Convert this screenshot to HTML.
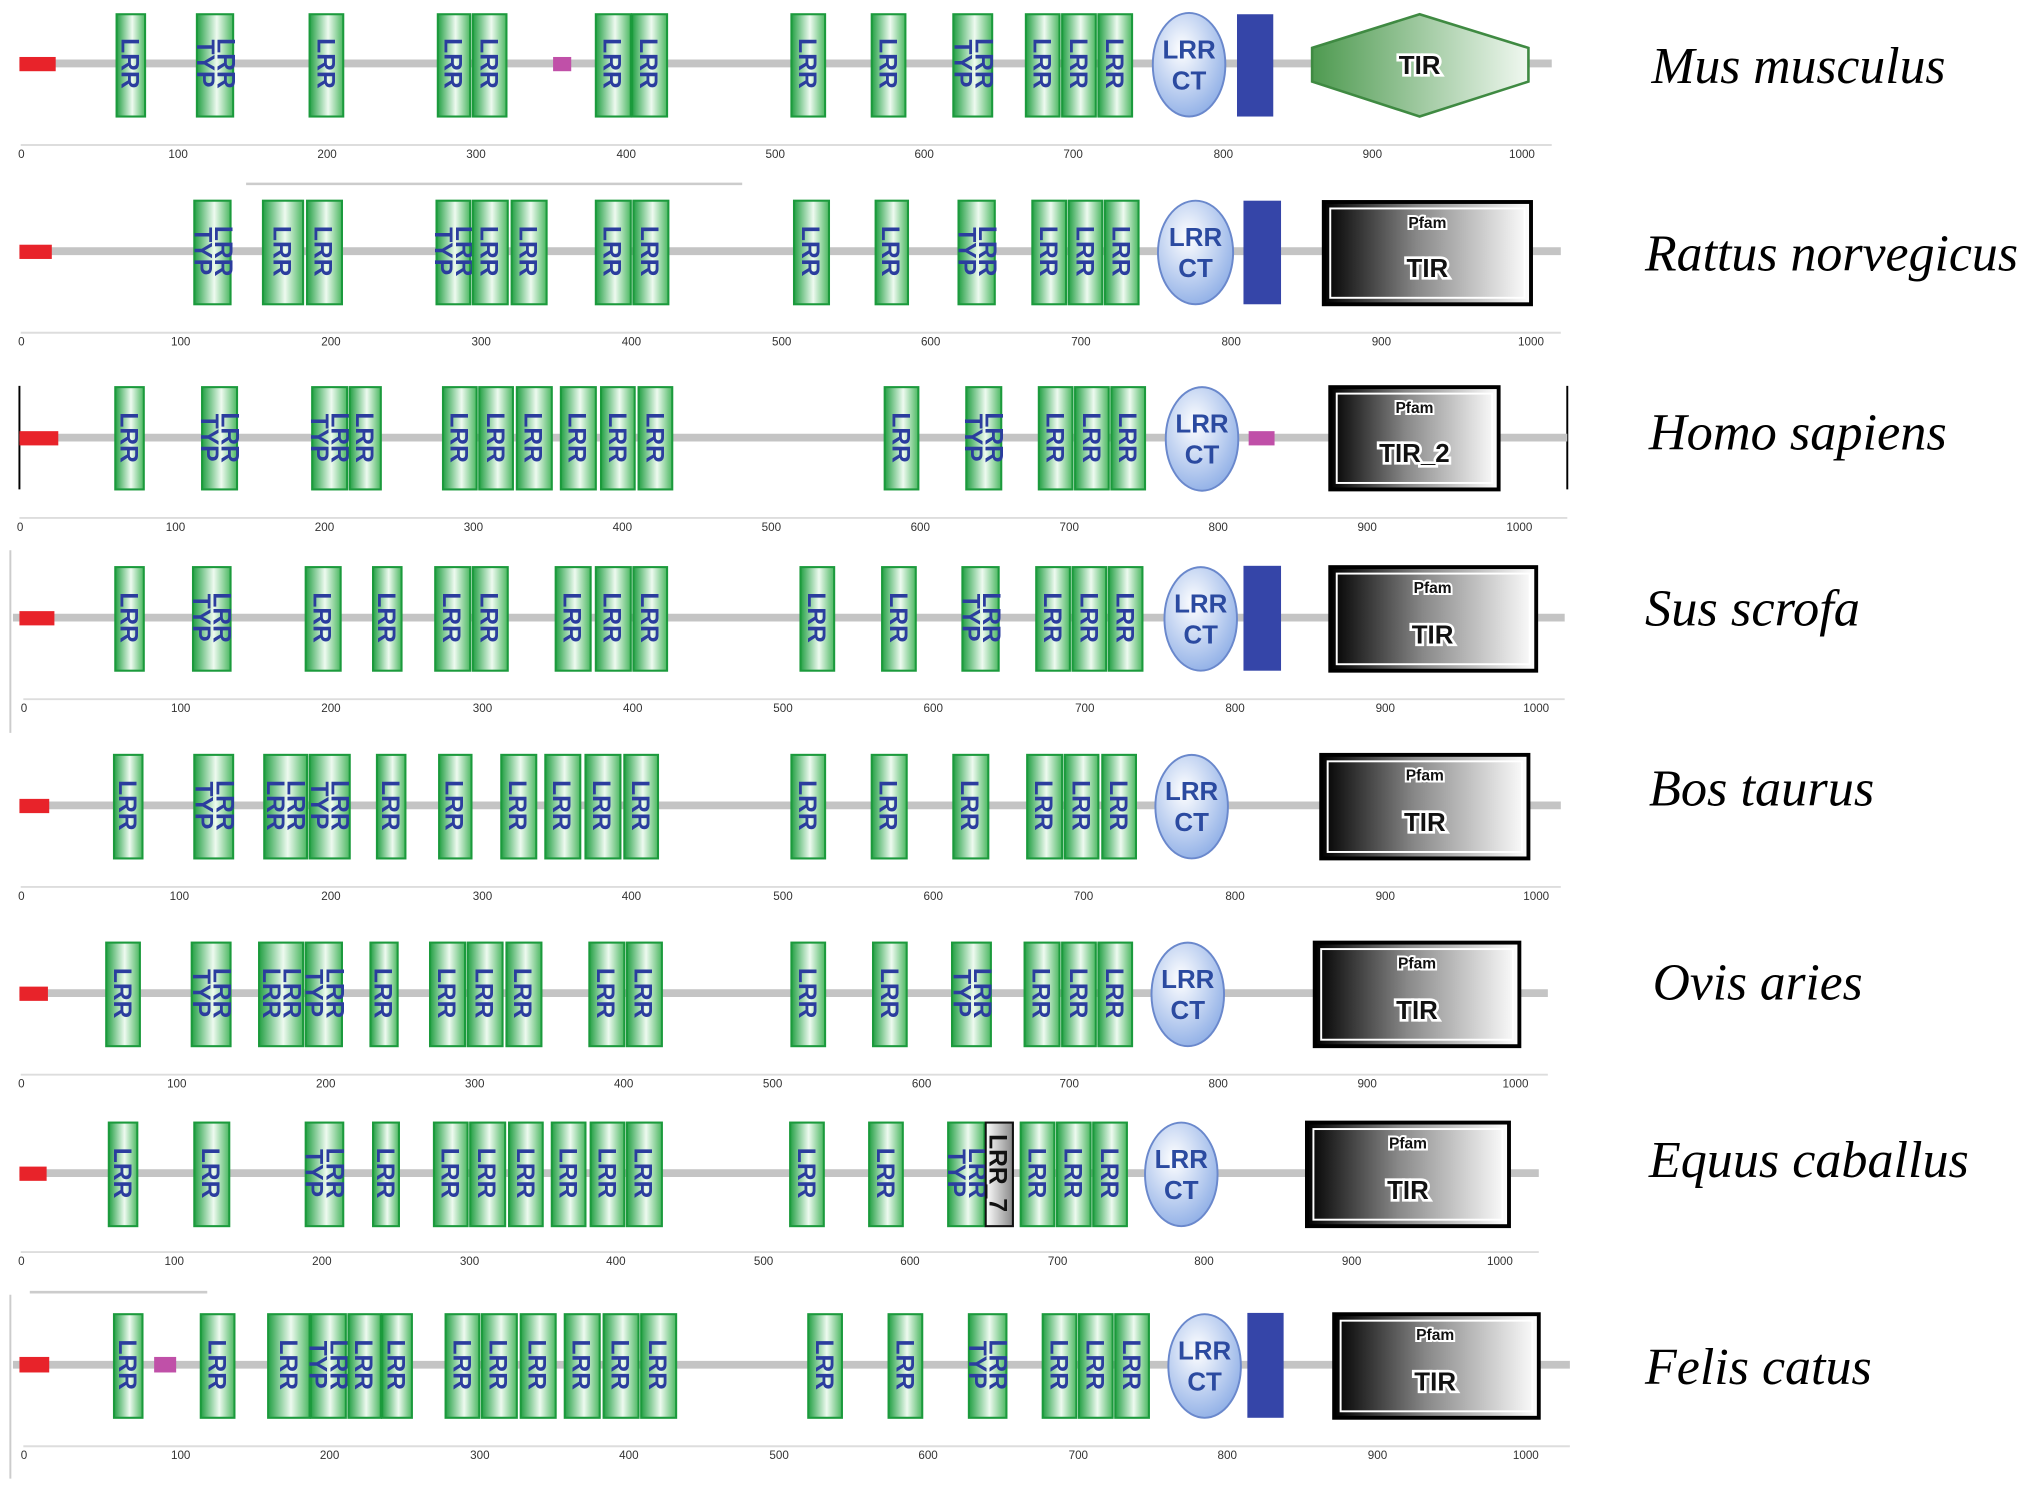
<!DOCTYPE html>
<html><head><meta charset="utf-8"><style>
html,body{margin:0;padding:0;background:#fff}
svg{display:block}
.bb{stroke:#c4c4c4;stroke-width:6}
.b{fill:url(#gg);stroke:#1b9a3c;stroke-width:1.6}
.t{font:bold 19px "Liberation Sans",sans-serif;fill:#2b3d9e;text-anchor:middle}
.r{fill:#e8232a}
.p{fill:#c050a8}
.bl{fill:#3545a8}
.e{fill:url(#eg);stroke:#6a88cc;stroke-width:1.5}
.et{font:bold 20px "Liberation Sans",sans-serif;fill:#2b4aa0;text-anchor:middle}
.pf{fill:url(#pg);stroke:#000;stroke-width:3}
.pfi{fill:none;stroke:#fff;stroke-width:1.5}
.pt{font:bold 12px "Liberation Sans",sans-serif;fill:#111;text-anchor:middle;stroke:#fff;stroke-width:3;paint-order:stroke}
.tt{font:bold 20px "Liberation Sans",sans-serif;fill:#111;text-anchor:middle;stroke:#fff;stroke-width:4;paint-order:stroke}
.rl{stroke:#ddd;stroke-width:1.5}
.tk{font:9px "Liberation Sans",sans-serif;fill:#333}
.sp{font:italic 40px "Liberation Serif",serif;fill:#000}
</style></head><body>
<svg width="2031" height="1489" viewBox="0 0 1568 1150" preserveAspectRatio="none" xmlns="http://www.w3.org/2000/svg">
<defs>
<linearGradient id="gg" x1="0" x2="1"><stop offset="0" stop-color="#23a044"/><stop offset="0.55" stop-color="#eefaf0"/><stop offset="1" stop-color="#4cb862"/></linearGradient>
<radialGradient id="eg" cx="0.4" cy="0.35" r="0.7"><stop offset="0" stop-color="#fff"/><stop offset="1" stop-color="#8eaee6"/></radialGradient>
<linearGradient id="pg" x1="0" x2="1"><stop offset="0" stop-color="#000"/><stop offset="0.45" stop-color="#888"/><stop offset="1" stop-color="#fff"/></linearGradient>
<linearGradient id="hg" x1="0" x2="1"><stop offset="0" stop-color="#4e9a50"/><stop offset="1" stop-color="#f0f8f0"/></linearGradient>
<linearGradient id="wg" x1="0" x2="1"><stop offset="0" stop-color="#fff"/><stop offset="1" stop-color="#888"/></linearGradient>
</defs>

<!-- ROW 1 Mus musculus cy=49 -->
<line class="bb" x1="15" y1="49" x2="1198" y2="49"/>
<rect class="r" x="15" y="44" width="28" height="11"/>
<rect class="b" x="90" y="11" width="22" height="79"/><text class="t" transform="translate(101,49) rotate(90)" dy="7">LRR</text>
<rect class="b" x="152" y="11" width="28" height="79"/><text class="t" transform="translate(166,49) rotate(90)" dy="-2">LRR</text><text class="t" transform="translate(166,49) rotate(90)" dy="14">TYP</text>
<rect class="b" x="239" y="11" width="26" height="79"/><text class="t" transform="translate(252,49) rotate(90)" dy="7">LRR</text>
<rect class="b" x="338" y="11" width="25" height="79"/><text class="t" transform="translate(350,49) rotate(90)" dy="7">LRR</text>
<rect class="b" x="365" y="11" width="26" height="79"/><text class="t" transform="translate(378,49) rotate(90)" dy="7">LRR</text>
<rect class="p" x="427" y="44" width="14" height="11"/>
<rect class="b" x="460" y="11" width="27" height="79"/><text class="t" transform="translate(473,49) rotate(90)" dy="7">LRR</text>
<rect class="b" x="488" y="11" width="27" height="79"/><text class="t" transform="translate(501,49) rotate(90)" dy="7">LRR</text>
<rect class="b" x="611" y="11" width="26" height="79"/><text class="t" transform="translate(624,49) rotate(90)" dy="7">LRR</text>
<rect class="b" x="673" y="11" width="26" height="79"/><text class="t" transform="translate(686,49) rotate(90)" dy="7">LRR</text>
<rect class="b" x="736" y="11" width="30" height="79"/><text class="t" transform="translate(751,49) rotate(90)" dy="-2">LRR</text><text class="t" transform="translate(751,49) rotate(90)" dy="14">TYP</text>
<rect class="b" x="792" y="11" width="26" height="79"/><text class="t" transform="translate(805,49) rotate(90)" dy="7">LRR</text>
<rect class="b" x="820" y="11" width="26" height="79"/><text class="t" transform="translate(833,49) rotate(90)" dy="7">LRR</text>
<rect class="b" x="848" y="11" width="26" height="79"/><text class="t" transform="translate(861,49) rotate(90)" dy="7">LRR</text>
<ellipse class="e" cx="918" cy="50" rx="28" ry="40"/><text class="et" x="918" y="45">LRR</text><text class="et" x="918" y="69">CT</text>
<rect class="bl" x="955" y="11" width="28" height="79"/>
<polygon points="1013,37 1096,11 1180,37 1180,63 1096,90 1013,63" fill="url(#hg)" stroke="#3f8a42" stroke-width="2"/>
<text class="tt" x="1096" y="57">TIR</text>
<line class="rl" x1="16" y1="112" x2="1198" y2="112"/>
<g class="tk"><text x="14" y="122">0</text><text x="130" y="122">100</text><text x="245" y="122">200</text><text x="360" y="122">300</text><text x="476" y="122">400</text><text x="591" y="122">500</text><text x="706" y="122">600</text><text x="821" y="122">700</text><text x="937" y="122">800</text><text x="1052" y="122">900</text><text x="1165" y="122">1000</text></g>
<text class="sp" x="1275" y="64" textLength="227" lengthAdjust="spacingAndGlyphs">Mus musculus</text>

<!-- ROW 2 Rattus cy=194 -->
<line x1="190" y1="142" x2="573" y2="142" stroke="#ccc" stroke-width="2"/>
<line class="bb" x1="15" y1="194" x2="1205" y2="194"/>
<rect class="r" x="15" y="189" width="25" height="11"/>
<rect class="b" x="150" y="155" width="28" height="80"/><text class="t" transform="translate(164,194) rotate(90)" dy="-2">LRR</text><text class="t" transform="translate(164,194) rotate(90)" dy="14">TYP</text>
<rect class="b" x="203" y="155" width="31" height="80"/><text class="t" transform="translate(218,194) rotate(90)" dy="7">LRR</text>
<rect class="b" x="237" y="155" width="27" height="80"/><text class="t" transform="translate(250,194) rotate(90)" dy="7">LRR</text>
<rect class="b" x="337" y="155" width="26" height="80"/><text class="t" transform="translate(350,194) rotate(90)" dy="-2">LRR</text><text class="t" transform="translate(350,194) rotate(90)" dy="14">TYP</text>
<rect class="b" x="365" y="155" width="27" height="80"/><text class="t" transform="translate(378,194) rotate(90)" dy="7">LRR</text>
<rect class="b" x="395" y="155" width="27" height="80"/><text class="t" transform="translate(408,194) rotate(90)" dy="7">LRR</text>
<rect class="b" x="460" y="155" width="27" height="80"/><text class="t" transform="translate(473,194) rotate(90)" dy="7">LRR</text>
<rect class="b" x="489" y="155" width="27" height="80"/><text class="t" transform="translate(502,194) rotate(90)" dy="7">LRR</text>
<rect class="b" x="613" y="155" width="27" height="80"/><text class="t" transform="translate(626,194) rotate(90)" dy="7">LRR</text>
<rect class="b" x="676" y="155" width="25" height="80"/><text class="t" transform="translate(688,194) rotate(90)" dy="7">LRR</text>
<rect class="b" x="740" y="155" width="28" height="80"/><text class="t" transform="translate(754,194) rotate(90)" dy="-2">LRR</text><text class="t" transform="translate(754,194) rotate(90)" dy="14">TYP</text>
<rect class="b" x="797" y="155" width="26" height="80"/><text class="t" transform="translate(810,194) rotate(90)" dy="7">LRR</text>
<rect class="b" x="825" y="155" width="26" height="80"/><text class="t" transform="translate(838,194) rotate(90)" dy="7">LRR</text>
<rect class="b" x="853" y="155" width="26" height="80"/><text class="t" transform="translate(866,194) rotate(90)" dy="7">LRR</text>
<ellipse class="e" cx="923" cy="195" rx="29" ry="40"/><text class="et" x="923" y="190">LRR</text><text class="et" x="923" y="214">CT</text>
<rect class="bl" x="960" y="155" width="29" height="80"/>
<rect class="pf" x="1022" y="156" width="160" height="79"/><rect class="pfi" x="1027" y="161" width="150" height="69"/>
<text class="pt" x="1102" y="176">Pfam</text><text class="tt" x="1102" y="214">TIR</text>
<line class="rl" x1="16" y1="257" x2="1205" y2="257"/>
<g class="tk"><text x="14" y="267">0</text><text x="132" y="267">100</text><text x="248" y="267">200</text><text x="364" y="267">300</text><text x="480" y="267">400</text><text x="596" y="267">500</text><text x="711" y="267">600</text><text x="827" y="267">700</text><text x="943" y="267">800</text><text x="1059" y="267">900</text><text x="1172" y="267">1000</text></g>
<text class="sp" x="1270" y="209" textLength="288" lengthAdjust="spacingAndGlyphs">Rattus norvegicus</text>

<!-- ROW 3 Homo cy=338 -->
<line x1="15" y1="298" x2="15" y2="378" stroke="#000" stroke-width="1.5"/>
<line x1="1210" y1="298" x2="1210" y2="378" stroke="#000" stroke-width="1.5"/>
<line class="bb" x1="15" y1="338" x2="1210" y2="338"/>
<rect class="r" x="15" y="333" width="30" height="11"/>
<rect class="b" x="89" y="299" width="22" height="79"/><text class="t" transform="translate(100,338) rotate(90)" dy="7">LRR</text>
<rect class="b" x="156" y="299" width="27" height="79"/><text class="t" transform="translate(169,338) rotate(90)" dy="-2">LRR</text><text class="t" transform="translate(169,338) rotate(90)" dy="14">TYP</text>
<rect class="b" x="241" y="299" width="27" height="79"/><text class="t" transform="translate(254,338) rotate(90)" dy="-2">LRR</text><text class="t" transform="translate(254,338) rotate(90)" dy="14">TYP</text>
<rect class="b" x="270" y="299" width="24" height="79"/><text class="t" transform="translate(282,338) rotate(90)" dy="7">LRR</text>
<rect class="b" x="342" y="299" width="26" height="79"/><text class="t" transform="translate(355,338) rotate(90)" dy="7">LRR</text>
<rect class="b" x="370" y="299" width="26" height="79"/><text class="t" transform="translate(383,338) rotate(90)" dy="7">LRR</text>
<rect class="b" x="399" y="299" width="27" height="79"/><text class="t" transform="translate(412,338) rotate(90)" dy="7">LRR</text>
<rect class="b" x="433" y="299" width="27" height="79"/><text class="t" transform="translate(446,338) rotate(90)" dy="7">LRR</text>
<rect class="b" x="464" y="299" width="26" height="79"/><text class="t" transform="translate(477,338) rotate(90)" dy="7">LRR</text>
<rect class="b" x="493" y="299" width="26" height="79"/><text class="t" transform="translate(506,338) rotate(90)" dy="7">LRR</text>
<rect class="b" x="683" y="299" width="26" height="79"/><text class="t" transform="translate(696,338) rotate(90)" dy="7">LRR</text>
<rect class="b" x="746" y="299" width="27" height="79"/><text class="t" transform="translate(759,338) rotate(90)" dy="-2">LRR</text><text class="t" transform="translate(759,338) rotate(90)" dy="14">TYP</text>
<rect class="b" x="802" y="299" width="26" height="79"/><text class="t" transform="translate(815,338) rotate(90)" dy="7">LRR</text>
<rect class="b" x="830" y="299" width="26" height="79"/><text class="t" transform="translate(843,338) rotate(90)" dy="7">LRR</text>
<rect class="b" x="858" y="299" width="26" height="79"/><text class="t" transform="translate(871,338) rotate(90)" dy="7">LRR</text>
<ellipse class="e" cx="928" cy="339" rx="28" ry="40"/><text class="et" x="928" y="334">LRR</text><text class="et" x="928" y="358">CT</text>
<rect class="p" x="964" y="333" width="20" height="11"/>
<rect class="pf" x="1027" y="299" width="130" height="79"/><rect class="pfi" x="1032" y="304" width="120" height="69"/>
<text class="pt" x="1092" y="319">Pfam</text><text class="tt" x="1092" y="357">TIR_2</text>
<line class="rl" x1="15" y1="400" x2="1210" y2="400"/>
<g class="tk"><text x="13" y="410">0</text><text x="128" y="410">100</text><text x="243" y="410">200</text><text x="358" y="410">300</text><text x="473" y="410">400</text><text x="588" y="410">500</text><text x="703" y="410">600</text><text x="818" y="410">700</text><text x="933" y="410">800</text><text x="1048" y="410">900</text><text x="1163" y="410">1000</text></g>
<text class="sp" x="1273" y="347" textLength="230" lengthAdjust="spacingAndGlyphs">Homo sapiens</text>

<!-- ROW 4 Sus cy=477 -->
<line x1="8" y1="425" x2="8" y2="566" stroke="#ccc" stroke-width="1.5"/>
<line class="bb" x1="10" y1="477" x2="1208" y2="477"/>
<rect class="r" x="15" y="472" width="27" height="11"/>
<rect class="b" x="89" y="438" width="22" height="80"/><text class="t" transform="translate(100,477) rotate(90)" dy="7">LRR</text>
<rect class="b" x="149" y="438" width="29" height="80"/><text class="t" transform="translate(163,477) rotate(90)" dy="-2">LRR</text><text class="t" transform="translate(163,477) rotate(90)" dy="14">TYP</text>
<rect class="b" x="236" y="438" width="27" height="80"/><text class="t" transform="translate(249,477) rotate(90)" dy="7">LRR</text>
<rect class="b" x="288" y="438" width="22" height="80"/><text class="t" transform="translate(299,477) rotate(90)" dy="7">LRR</text>
<rect class="b" x="336" y="438" width="27" height="80"/><text class="t" transform="translate(349,477) rotate(90)" dy="7">LRR</text>
<rect class="b" x="365" y="438" width="27" height="80"/><text class="t" transform="translate(378,477) rotate(90)" dy="7">LRR</text>
<rect class="b" x="429" y="438" width="27" height="80"/><text class="t" transform="translate(442,477) rotate(90)" dy="7">LRR</text>
<rect class="b" x="460" y="438" width="27" height="80"/><text class="t" transform="translate(473,477) rotate(90)" dy="7">LRR</text>
<rect class="b" x="489" y="438" width="26" height="80"/><text class="t" transform="translate(502,477) rotate(90)" dy="7">LRR</text>
<rect class="b" x="618" y="438" width="26" height="80"/><text class="t" transform="translate(631,477) rotate(90)" dy="7">LRR</text>
<rect class="b" x="681" y="438" width="26" height="80"/><text class="t" transform="translate(694,477) rotate(90)" dy="7">LRR</text>
<rect class="b" x="743" y="438" width="28" height="80"/><text class="t" transform="translate(757,477) rotate(90)" dy="-2">LRR</text><text class="t" transform="translate(757,477) rotate(90)" dy="14">TYP</text>
<rect class="b" x="800" y="438" width="26" height="80"/><text class="t" transform="translate(813,477) rotate(90)" dy="7">LRR</text>
<rect class="b" x="828" y="438" width="26" height="80"/><text class="t" transform="translate(841,477) rotate(90)" dy="7">LRR</text>
<rect class="b" x="856" y="438" width="26" height="80"/><text class="t" transform="translate(869,477) rotate(90)" dy="7">LRR</text>
<ellipse class="e" cx="927" cy="478" rx="28" ry="40"/><text class="et" x="927" y="473">LRR</text><text class="et" x="927" y="497">CT</text>
<rect class="bl" x="960" y="437" width="29" height="81"/>
<rect class="pf" x="1027" y="438" width="159" height="80"/><rect class="pfi" x="1032" y="443" width="149" height="70"/>
<text class="pt" x="1106" y="458">Pfam</text><text class="tt" x="1106" y="497">TIR</text>
<line class="rl" x1="18" y1="540" x2="1208" y2="540"/>
<g class="tk"><text x="16" y="550">0</text><text x="132" y="550">100</text><text x="248" y="550">200</text><text x="365" y="550">300</text><text x="481" y="550">400</text><text x="597" y="550">500</text><text x="713" y="550">600</text><text x="830" y="550">700</text><text x="946" y="550">800</text><text x="1062" y="550">900</text><text x="1176" y="550">1000</text></g>
<text class="sp" x="1270" y="483" textLength="166" lengthAdjust="spacingAndGlyphs">Sus scrofa</text>

<!-- ROW 5 Bos cy=622 -->
<line class="bb" x1="15" y1="622" x2="1205" y2="622"/>
<rect class="r" x="15" y="617" width="23" height="11"/>
<rect class="b" x="88" y="583" width="22" height="80"/><text class="t" transform="translate(99,622) rotate(90)" dy="7">LRR</text>
<rect class="b" x="150" y="583" width="30" height="80"/><text class="t" transform="translate(165,622) rotate(90)" dy="-2">LRR</text><text class="t" transform="translate(165,622) rotate(90)" dy="14">TYP</text>
<rect class="b" x="204" y="583" width="33" height="80"/><text class="t" transform="translate(220,622) rotate(90)" dy="-2">LRR</text><text class="t" transform="translate(220,622) rotate(90)" dy="14">LRR</text>
<rect class="b" x="239" y="583" width="31" height="80"/><text class="t" transform="translate(254,622) rotate(90)" dy="-2">LRR</text><text class="t" transform="translate(254,622) rotate(90)" dy="14">TYP</text>
<rect class="b" x="291" y="583" width="22" height="80"/><text class="t" transform="translate(302,622) rotate(90)" dy="7">LRR</text>
<rect class="b" x="339" y="583" width="25" height="80"/><text class="t" transform="translate(351,622) rotate(90)" dy="7">LRR</text>
<rect class="b" x="387" y="583" width="27" height="80"/><text class="t" transform="translate(400,622) rotate(90)" dy="7">LRR</text>
<rect class="b" x="421" y="583" width="27" height="80"/><text class="t" transform="translate(434,622) rotate(90)" dy="7">LRR</text>
<rect class="b" x="452" y="583" width="27" height="80"/><text class="t" transform="translate(465,622) rotate(90)" dy="7">LRR</text>
<rect class="b" x="482" y="583" width="26" height="80"/><text class="t" transform="translate(495,622) rotate(90)" dy="7">LRR</text>
<rect class="b" x="611" y="583" width="26" height="80"/><text class="t" transform="translate(624,622) rotate(90)" dy="7">LRR</text>
<rect class="b" x="673" y="583" width="27" height="80"/><text class="t" transform="translate(686,622) rotate(90)" dy="7">LRR</text>
<rect class="b" x="736" y="583" width="27" height="80"/><text class="t" transform="translate(749,622) rotate(90)" dy="7">LRR</text>
<rect class="b" x="793" y="583" width="27" height="80"/><text class="t" transform="translate(806,622) rotate(90)" dy="7">LRR</text>
<rect class="b" x="822" y="583" width="26" height="80"/><text class="t" transform="translate(835,622) rotate(90)" dy="7">LRR</text>
<rect class="b" x="851" y="583" width="26" height="80"/><text class="t" transform="translate(864,622) rotate(90)" dy="7">LRR</text>
<ellipse class="e" cx="920" cy="623" rx="28" ry="40"/><text class="et" x="920" y="618">LRR</text><text class="et" x="920" y="642">CT</text>
<rect class="pf" x="1020" y="583" width="160" height="80"/><rect class="pfi" x="1025" y="588" width="150" height="70"/>
<text class="pt" x="1100" y="603">Pfam</text><text class="tt" x="1100" y="642">TIR</text>
<line class="rl" x1="16" y1="685" x2="1205" y2="685"/>
<g class="tk"><text x="14" y="695">0</text><text x="131" y="695">100</text><text x="248" y="695">200</text><text x="365" y="695">300</text><text x="480" y="695">400</text><text x="597" y="695">500</text><text x="713" y="695">600</text><text x="829" y="695">700</text><text x="946" y="695">800</text><text x="1062" y="695">900</text><text x="1176" y="695">1000</text></g>
<text class="sp" x="1273" y="622" textLength="174" lengthAdjust="spacingAndGlyphs">Bos taurus</text>

<!-- ROW 6 Ovis cy=767 -->
<line class="bb" x1="15" y1="767" x2="1195" y2="767"/>
<rect class="r" x="15" y="762" width="22" height="11"/>
<rect class="b" x="82" y="728" width="26" height="80"/><text class="t" transform="translate(95,767) rotate(90)" dy="7">LRR</text>
<rect class="b" x="148" y="728" width="30" height="80"/><text class="t" transform="translate(163,767) rotate(90)" dy="-2">LRR</text><text class="t" transform="translate(163,767) rotate(90)" dy="14">TYP</text>
<rect class="b" x="200" y="728" width="34" height="80"/><text class="t" transform="translate(217,767) rotate(90)" dy="-2">LRR</text><text class="t" transform="translate(217,767) rotate(90)" dy="14">LRR</text>
<rect class="b" x="236" y="728" width="28" height="80"/><text class="t" transform="translate(250,767) rotate(90)" dy="-2">LRR</text><text class="t" transform="translate(250,767) rotate(90)" dy="14">TYP</text>
<rect class="b" x="286" y="728" width="21" height="80"/><text class="t" transform="translate(296,767) rotate(90)" dy="7">LRR</text>
<rect class="b" x="332" y="728" width="27" height="80"/><text class="t" transform="translate(345,767) rotate(90)" dy="7">LRR</text>
<rect class="b" x="361" y="728" width="27" height="80"/><text class="t" transform="translate(374,767) rotate(90)" dy="7">LRR</text>
<rect class="b" x="391" y="728" width="27" height="80"/><text class="t" transform="translate(404,767) rotate(90)" dy="7">LRR</text>
<rect class="b" x="455" y="728" width="27" height="80"/><text class="t" transform="translate(468,767) rotate(90)" dy="7">LRR</text>
<rect class="b" x="484" y="728" width="27" height="80"/><text class="t" transform="translate(497,767) rotate(90)" dy="7">LRR</text>
<rect class="b" x="611" y="728" width="26" height="80"/><text class="t" transform="translate(624,767) rotate(90)" dy="7">LRR</text>
<rect class="b" x="674" y="728" width="26" height="80"/><text class="t" transform="translate(687,767) rotate(90)" dy="7">LRR</text>
<rect class="b" x="735" y="728" width="30" height="80"/><text class="t" transform="translate(750,767) rotate(90)" dy="-2">LRR</text><text class="t" transform="translate(750,767) rotate(90)" dy="14">TYP</text>
<rect class="b" x="791" y="728" width="27" height="80"/><text class="t" transform="translate(804,767) rotate(90)" dy="7">LRR</text>
<rect class="b" x="820" y="728" width="26" height="80"/><text class="t" transform="translate(833,767) rotate(90)" dy="7">LRR</text>
<rect class="b" x="848" y="728" width="26" height="80"/><text class="t" transform="translate(861,767) rotate(90)" dy="7">LRR</text>
<ellipse class="e" cx="917" cy="768" rx="28" ry="40"/><text class="et" x="917" y="763">LRR</text><text class="et" x="917" y="787">CT</text>
<rect class="pf" x="1015" y="728" width="158" height="80"/><rect class="pfi" x="1020" y="733" width="148" height="70"/>
<text class="pt" x="1094" y="748">Pfam</text><text class="tt" x="1094" y="787">TIR</text>
<line class="rl" x1="16" y1="830" x2="1195" y2="830"/>
<g class="tk"><text x="14" y="840">0</text><text x="129" y="840">100</text><text x="244" y="840">200</text><text x="359" y="840">300</text><text x="474" y="840">400</text><text x="589" y="840">500</text><text x="704" y="840">600</text><text x="818" y="840">700</text><text x="933" y="840">800</text><text x="1048" y="840">900</text><text x="1160" y="840">1000</text></g>
<text class="sp" x="1276" y="772" textLength="162" lengthAdjust="spacingAndGlyphs">Ovis aries</text>

<!-- ROW 7 Equus cy=906 -->
<line class="bb" x1="15" y1="906" x2="1188" y2="906"/>
<rect class="r" x="15" y="901" width="21" height="11"/>
<rect class="b" x="84" y="867" width="22" height="80"/><text class="t" transform="translate(95,906) rotate(90)" dy="7">LRR</text>
<rect class="b" x="150" y="867" width="27" height="80"/><text class="t" transform="translate(163,906) rotate(90)" dy="7">LRR</text>
<rect class="b" x="236" y="867" width="29" height="80"/><text class="t" transform="translate(250,906) rotate(90)" dy="-2">LRR</text><text class="t" transform="translate(250,906) rotate(90)" dy="14">TYP</text>
<rect class="b" x="288" y="867" width="20" height="80"/><text class="t" transform="translate(298,906) rotate(90)" dy="7">LRR</text>
<rect class="b" x="335" y="867" width="26" height="80"/><text class="t" transform="translate(348,906) rotate(90)" dy="7">LRR</text>
<rect class="b" x="363" y="867" width="27" height="80"/><text class="t" transform="translate(376,906) rotate(90)" dy="7">LRR</text>
<rect class="b" x="393" y="867" width="26" height="80"/><text class="t" transform="translate(406,906) rotate(90)" dy="7">LRR</text>
<rect class="b" x="426" y="867" width="26" height="80"/><text class="t" transform="translate(439,906) rotate(90)" dy="7">LRR</text>
<rect class="b" x="456" y="867" width="26" height="80"/><text class="t" transform="translate(469,906) rotate(90)" dy="7">LRR</text>
<rect class="b" x="484" y="867" width="27" height="80"/><text class="t" transform="translate(497,906) rotate(90)" dy="7">LRR</text>
<rect class="b" x="610" y="867" width="26" height="80"/><text class="t" transform="translate(623,906) rotate(90)" dy="7">LRR</text>
<rect class="b" x="671" y="867" width="26" height="80"/><text class="t" transform="translate(684,906) rotate(90)" dy="7">LRR</text>
<rect class="b" x="732" y="867" width="28" height="80"/><text class="t" transform="translate(746,906) rotate(90)" dy="-2">LRR</text><text class="t" transform="translate(746,906) rotate(90)" dy="14">TYP</text>
<rect x="761" y="867" width="21" height="80" fill="url(#wg)" stroke="#111" stroke-width="1.6"/><text class="t" style="fill:#111" transform="translate(771,906) rotate(90)" dy="7">LRR_7</text>
<rect class="b" x="788" y="867" width="26" height="80"/><text class="t" transform="translate(801,906) rotate(90)" dy="7">LRR</text>
<rect class="b" x="816" y="867" width="26" height="80"/><text class="t" transform="translate(829,906) rotate(90)" dy="7">LRR</text>
<rect class="b" x="844" y="867" width="26" height="80"/><text class="t" transform="translate(857,906) rotate(90)" dy="7">LRR</text>
<ellipse class="e" cx="912" cy="907" rx="28" ry="40"/><text class="et" x="912" y="902">LRR</text><text class="et" x="912" y="926">CT</text>
<rect class="pf" x="1009" y="867" width="156" height="80"/><rect class="pfi" x="1014" y="872" width="146" height="70"/>
<text class="pt" x="1087" y="887">Pfam</text><text class="tt" x="1087" y="926">TIR</text>
<line class="rl" x1="16" y1="967" x2="1188" y2="967"/>
<g class="tk"><text x="14" y="977">0</text><text x="127" y="977">100</text><text x="241" y="977">200</text><text x="355" y="977">300</text><text x="468" y="977">400</text><text x="582" y="977">500</text><text x="695" y="977">600</text><text x="809" y="977">700</text><text x="922" y="977">800</text><text x="1036" y="977">900</text><text x="1148" y="977">1000</text></g>
<text class="sp" x="1273" y="909" textLength="247" lengthAdjust="spacingAndGlyphs">Equus caballus</text>

<!-- ROW 8 Felis cy=1054 -->
<line x1="8" y1="1000" x2="8" y2="1142" stroke="#ccc" stroke-width="1.5"/>
<line x1="23" y1="998" x2="160" y2="998" stroke="#ccc" stroke-width="2"/>
<line class="bb" x1="10" y1="1054" x2="1212" y2="1054"/>
<rect class="r" x="15" y="1048" width="23" height="12"/>
<rect class="b" x="88" y="1015" width="22" height="80"/><text class="t" transform="translate(99,1054) rotate(90)" dy="7">LRR</text>
<rect class="p" x="119" y="1048" width="17" height="12"/>
<rect class="b" x="155" y="1015" width="26" height="80"/><text class="t" transform="translate(168,1054) rotate(90)" dy="7">LRR</text>
<rect class="b" x="207" y="1015" width="32" height="80"/><text class="t" transform="translate(223,1054) rotate(90)" dy="7">LRR</text>
<rect class="b" x="240" y="1015" width="27" height="80"/><text class="t" transform="translate(253,1054) rotate(90)" dy="-2">LRR</text><text class="t" transform="translate(253,1054) rotate(90)" dy="14">TYP</text>
<rect class="b" x="269" y="1015" width="25" height="80"/><text class="t" transform="translate(281,1054) rotate(90)" dy="7">LRR</text>
<rect class="b" x="295" y="1015" width="23" height="80"/><text class="t" transform="translate(306,1054) rotate(90)" dy="7">LRR</text>
<rect class="b" x="344" y="1015" width="26" height="80"/><text class="t" transform="translate(357,1054) rotate(90)" dy="7">LRR</text>
<rect class="b" x="372" y="1015" width="27" height="80"/><text class="t" transform="translate(385,1054) rotate(90)" dy="7">LRR</text>
<rect class="b" x="402" y="1015" width="27" height="80"/><text class="t" transform="translate(415,1054) rotate(90)" dy="7">LRR</text>
<rect class="b" x="436" y="1015" width="27" height="80"/><text class="t" transform="translate(449,1054) rotate(90)" dy="7">LRR</text>
<rect class="b" x="466" y="1015" width="27" height="80"/><text class="t" transform="translate(479,1054) rotate(90)" dy="7">LRR</text>
<rect class="b" x="495" y="1015" width="27" height="80"/><text class="t" transform="translate(508,1054) rotate(90)" dy="7">LRR</text>
<rect class="b" x="624" y="1015" width="26" height="80"/><text class="t" transform="translate(637,1054) rotate(90)" dy="7">LRR</text>
<rect class="b" x="686" y="1015" width="26" height="80"/><text class="t" transform="translate(699,1054) rotate(90)" dy="7">LRR</text>
<rect class="b" x="748" y="1015" width="29" height="80"/><text class="t" transform="translate(762,1054) rotate(90)" dy="-2">LRR</text><text class="t" transform="translate(762,1054) rotate(90)" dy="14">TYP</text>
<rect class="b" x="805" y="1015" width="26" height="80"/><text class="t" transform="translate(818,1054) rotate(90)" dy="7">LRR</text>
<rect class="b" x="833" y="1015" width="26" height="80"/><text class="t" transform="translate(846,1054) rotate(90)" dy="7">LRR</text>
<rect class="b" x="861" y="1015" width="26" height="80"/><text class="t" transform="translate(874,1054) rotate(90)" dy="7">LRR</text>
<ellipse class="e" cx="930" cy="1055" rx="28" ry="40"/><text class="et" x="930" y="1050">LRR</text><text class="et" x="930" y="1074">CT</text>
<rect class="bl" x="963" y="1014" width="28" height="81"/>
<rect class="pf" x="1030" y="1015" width="158" height="80"/><rect class="pfi" x="1035" y="1020" width="148" height="70"/>
<text class="pt" x="1108" y="1035">Pfam</text><text class="tt" x="1108" y="1074">TIR</text>
<line class="rl" x1="18" y1="1117" x2="1212" y2="1117"/>
<g class="tk"><text x="16" y="1127">0</text><text x="132" y="1127">100</text><text x="247" y="1127">200</text><text x="363" y="1127">300</text><text x="478" y="1127">400</text><text x="594" y="1127">500</text><text x="709" y="1127">600</text><text x="825" y="1127">700</text><text x="940" y="1127">800</text><text x="1056" y="1127">900</text><text x="1168" y="1127">1000</text></g>
<text class="sp" x="1270" y="1069" textLength="175" lengthAdjust="spacingAndGlyphs">Felis catus</text>
</svg>
</body></html>
